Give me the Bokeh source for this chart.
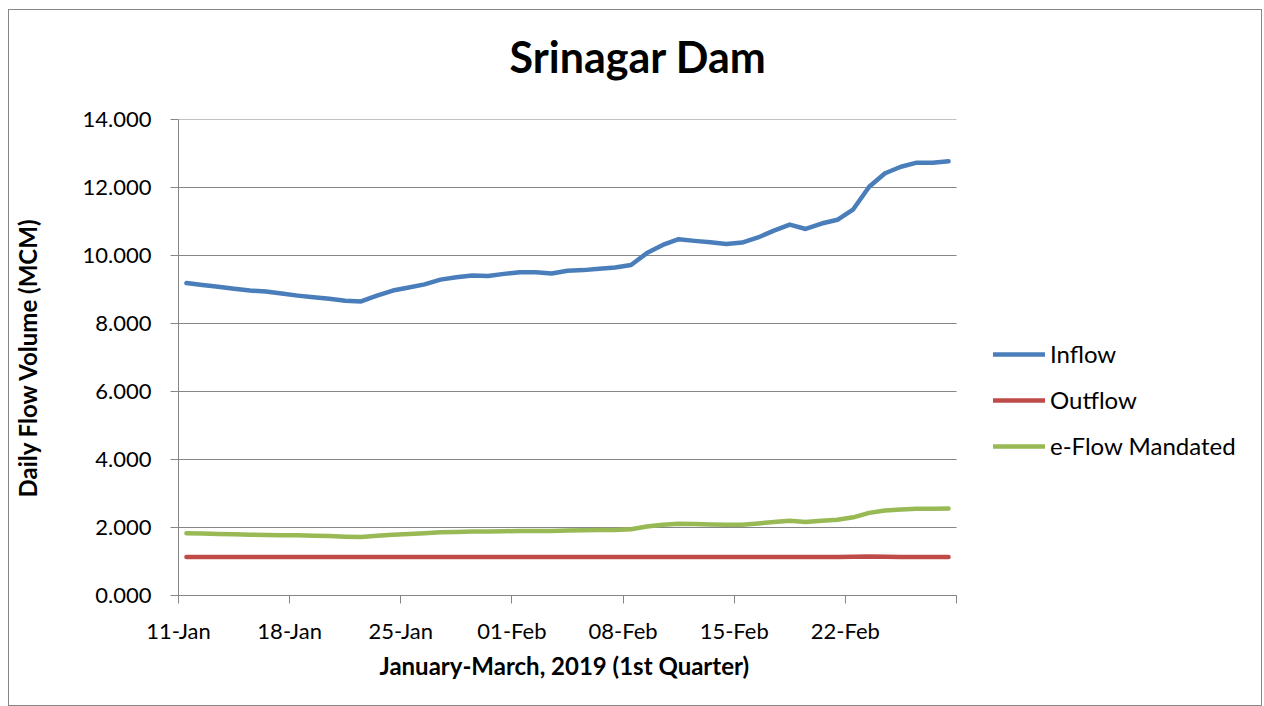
from bokeh.plotting import figure
from bokeh.models import Range1d, FixedTicker, PrintfTickFormatter, Legend, LegendItem, Title
from bokeh.embed import file_html
from bokeh.resources import INLINE

# ---- data (days counted from 11-Jan-2019, one value per day up to 28-Feb) ----
tick_days = [0, 7, 14, 21, 28, 35, 42, 49]
tick_labels = ["11-Jan", "18-Jan", "25-Jan", "01-Feb", "08-Feb", "15-Feb", "22-Feb", ""]
y_ticks = [0, 2, 4, 6, 8, 10, 12, 14]

inflow = [9.19, 9.13, 9.08, 9.02, 8.97, 8.94, 8.88, 8.82, 8.77, 8.73, 8.67, 8.65,
          8.82, 8.97, 9.06, 9.15, 9.29, 9.36, 9.41, 9.40, 9.46, 9.51, 9.51, 9.47,
          9.55, 9.57, 9.61, 9.65, 9.72, 10.07, 10.31, 10.48, 10.43, 10.39, 10.34,
          10.38, 10.53, 10.73, 10.91, 10.78, 10.94, 11.05, 11.36, 12.02, 12.42,
          12.61, 12.73, 12.73, 12.77]
outflow = [1.13] * 42 + [1.14, 1.15, 1.14, 1.13, 1.13, 1.13, 1.13]
eflow = [1.83, 1.82, 1.81, 1.80, 1.79, 1.78, 1.77, 1.77, 1.76, 1.75, 1.73, 1.72,
         1.76, 1.79, 1.81, 1.83, 1.86, 1.87, 1.88, 1.88, 1.89, 1.90, 1.90, 1.90,
         1.91, 1.92, 1.93, 1.93, 1.95, 2.03, 2.08, 2.11, 2.10, 2.09, 2.08, 2.08,
         2.12, 2.16, 2.20, 2.16, 2.20, 2.23, 2.30, 2.43, 2.50, 2.53, 2.55, 2.55, 2.56]
days = [i + 0.5 for i in range(len(inflow))]

series_names = ["Inflow", "Outflow", "e-Flow Mandated"]
series_colors = ["#4A7EBB", "#BE4B48", "#98B954"]

FONT = "Lato"
GRID = "#868686"

# axes area: 778 px for 49 days; the frame continues to the right edge so the
# legend (which sits outside the axes) can live inside it without clipping
AXIS_DAYS = 49
px_per_day = 778 / AXIS_DAYS
x_end = AXIS_DAYS + 306 / px_per_day

p = figure(width=1254, height=697, output_backend="svg", toolbar_location=None,
           x_range=Range1d(0, x_end), y_range=Range1d(0, 14),
           min_border_left=169, min_border_right=1, min_border_top=109, min_border_bottom=112)
p.margin = (9, 0, 0, 8)
p.styles = {"border": "1px solid #868686", "box-sizing": "border-box"}
p.outline_line_color = None
p.background_fill_color = "white"
p.xgrid.grid_line_color = None
p.ygrid.grid_line_color = None

# axes
p.xaxis.bounds = (0, AXIS_DAYS)
p.xaxis.ticker = FixedTicker(ticks=tick_days)
p.xaxis.major_label_overrides = {d: l for d, l in zip(tick_days, tick_labels)}
p.yaxis.ticker = FixedTicker(ticks=y_ticks)
p.yaxis.formatter = PrintfTickFormatter(format="%.3f")
for ax in (p.xaxis, p.yaxis):
    ax.axis_line_color = GRID
    ax.major_tick_line_color = GRID
    ax.major_tick_out = 8
    ax.major_tick_in = 0
    ax.minor_tick_line_color = None
    ax.major_label_text_font = FONT
    ax.major_label_text_font_size = "22px"
    ax.major_label_text_color = "black"
    ax.axis_label_text_font = FONT
    ax.axis_label_text_font_style = "bold"
    ax.axis_label_text_font_size = "24px"
    ax.axis_label_text_color = "black"
p.xaxis.major_label_standoff = 13
p.yaxis.major_label_standoff = 19
p.yaxis.axis_label = "Daily Flow Volume (MCM)"
p.yaxis.axis_label_standoff = 38

# horizontal gridlines across the 49-day axis
p.segment(x0=[0] * len(y_ticks), x1=[AXIS_DAYS] * len(y_ticks), y0=y_ticks, y1=y_ticks,
          line_color=GRID, line_width=1)

renderers = []
for name, vals, col in zip(series_names, [inflow, outflow, eflow], series_colors):
    r = p.line(days, vals, line_color=col, line_width=4.5, line_cap="round", line_join="round")
    renderers.append(r)

legend = Legend(items=[LegendItem(label=n, renderers=[r]) for n, r in zip(series_names, renderers)],
                location=(815, 135), orientation="vertical",
                border_line_color=None, background_fill_alpha=0,
                padding=0, margin=0, spacing=17, glyph_width=52, glyph_height=20,
                label_height=20, label_standoff=5,
                label_text_font=FONT, label_text_font_size="24px", label_text_color="black")
p.add_layout(legend, "center")

# blank spacer (closest to the frame) lifts the chart title upward
spacer = Title(text=" ", text_font_size="10px", standoff=25)
p.add_layout(spacer, "above")
title = Title(text="Srinagar Dam", align="left", offset=331, standoff=0,
              text_font=FONT, text_font_style="bold", text_font_size="43px", text_color="black")
p.add_layout(title, "above")

xlabel = Title(text="January-March, 2019 (1st Quarter)", align="left", offset=201, standoff=4,
               text_font=FONT, text_font_style="bold", text_font_size="24px", text_color="black")
p.add_layout(xlabel, "below")

open("out.html", "w").write(file_html(p, INLINE))
